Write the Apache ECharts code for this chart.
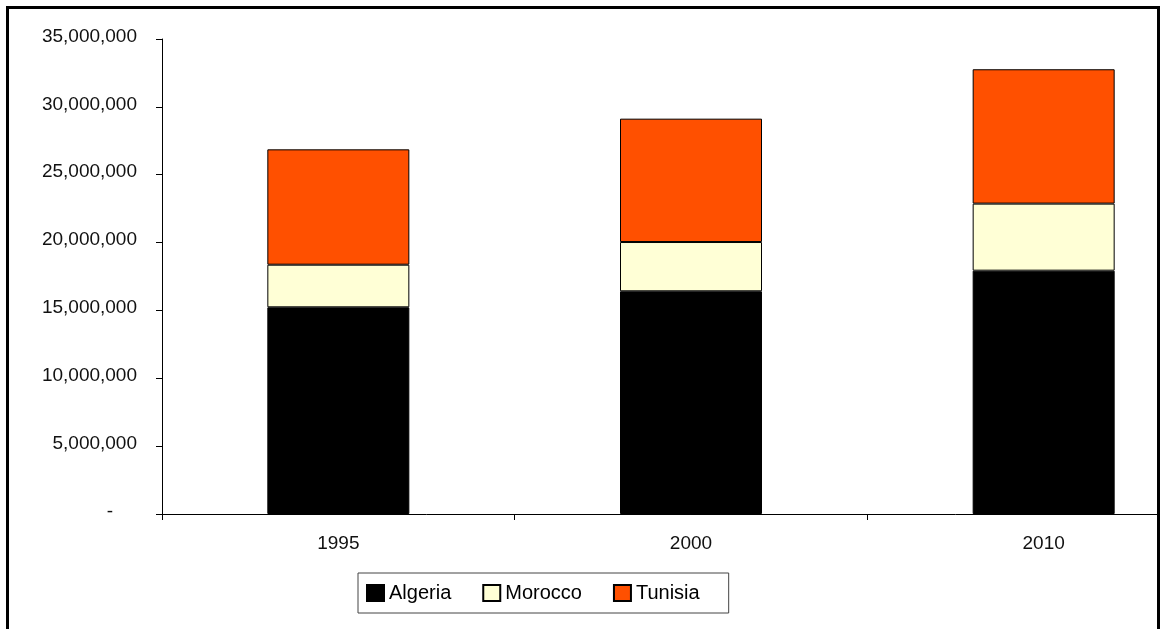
<!DOCTYPE html>
<html>
<head>
<meta charset="utf-8">
<script src="https://cdn.jsdelivr.net/npm/echarts@6/dist/echarts.min.js"></script>
<style>
  html, body { margin: 0; padding: 0; background: #fff; overflow: hidden; }
  #wrap { width: 1160px; height: 629px; overflow: hidden; position: relative; }
  /* the plot area runs on past the right edge of the frame */
  #chart { width: 1222px; height: 629px; position: absolute; left: 0; top: 0; }
</style>
</head>
<body>
<div id="wrap"><div id="chart"></div></div>
<script>
// Population by year, stacked by country
const years = ['1995', '2000', '2010'];
const algeria = [15230000, 16410000, 17930000];
const morocco = [3140000, 3630000, 4940000];
const tunisia = [8500000, 9090000, 9900000];
const seriesNames = ['Algeria', 'Morocco', 'Tunisia'];

const colors = { Algeria: '#000000', Morocco: '#FFFFD6', Tunisia: '#FF5000' };
const FONT = '"Liberation Sans", Arial, sans-serif';

const chart = echarts.init(document.getElementById('chart'), null, { renderer: 'canvas' });

function barSeries(name, data) {
  return {
    name: name,
    type: 'bar',
    stack: 'total',
    data: data,
    barWidth: 142,
    itemStyle: { color: colors[name], borderColor: '#000', borderWidth: 1 },
    emphasis: { disabled: true }
  };
}

chart.setOption({
  animation: false,
  backgroundColor: '#fff',
  textStyle: { fontFamily: FONT },
  grid: { left: 162, top: 39, right: 2, height: 475, containLabel: false },
  xAxis: {
    type: 'category',
    data: years,
    boundaryGap: true,
    axisLine: { lineStyle: { color: '#000', width: 1 } },
    axisTick: { show: true, length: 6, lineStyle: { color: '#000' } },
    axisLabel: { color: '#111', fontSize: 19, fontFamily: FONT, margin: 20 },
    splitLine: { show: false }
  },
  yAxis: {
    type: 'value',
    min: 0,
    max: 35000000,
    interval: 5000000,
    axisLine: { show: true, lineStyle: { color: '#000', width: 1 } },
    axisTick: { show: true, length: 6, lineStyle: { color: '#000' } },
    splitLine: { show: false },
    axisLabel: {
      color: '#111',
      fontSize: 19,
      fontFamily: FONT,
      margin: 25,
      padding: [0, 0, 5, 0],
      formatter: function (v) {
        return v === 0 ? '{z|-}' : v.toLocaleString('en-US');
      },
      rich: { z: { fontSize: 19, fontFamily: FONT, color: '#111', padding: [0, 24, 0, 0] } }
    }
  },
  legend: {
    data: seriesNames,
    left: 358,
    top: 573,
    orient: 'horizontal',
    itemWidth: 17,
    itemHeight: 16,
    itemGap: 31,
    padding: [10, 29, 10, 8],
    borderColor: '#444',
    borderWidth: 1,
    selectedMode: false,
    icon: 'rect',
    textStyle: { color: '#000', fontSize: 20, fontFamily: FONT }
  },
  graphic: [
    {
      type: 'rect',
      z: 100,
      silent: true,
      shape: { x: 7.5, y: 7.5, width: 1151, height: 640 },
      style: { fill: 'none', stroke: '#000', lineWidth: 3 }
    },
    {
      // blank margin to the right of the frame
      type: 'rect',
      z: 99,
      silent: true,
      shape: { x: 1160, y: 0, width: 62, height: 629 },
      style: { fill: '#fff' }
    }
  ],
  series: [
    barSeries('Algeria', algeria),
    barSeries('Morocco', morocco),
    barSeries('Tunisia', tunisia)
  ]
});
</script>
</body>
</html>
